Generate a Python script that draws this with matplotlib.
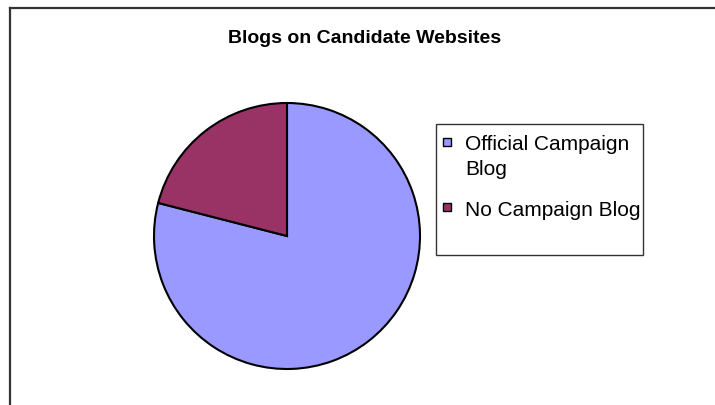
import matplotlib.pyplot as plt
from matplotlib.lines import Line2D
from matplotlib.patches import Rectangle

# blog share on candidate websites
labels = ["Official Campaign\nBlog", "No Campaign Blog"]
shares = [79, 21]
colors = ["#9999FF", "#993366"]

W, H = 715, 405
plt.rcParams['font.family'] = ['Liberation Sans', 'DejaVu Sans']

fig = plt.figure(figsize=(W / 100, H / 100), dpi=100)

# chart area border (only left and top edges are inside the image)
fig.add_artist(Line2D([10 / W, 10 / W], [0, 1 - 8 / H], color="#333333", lw=1.6))
fig.add_artist(Line2D([10 / W, 1], [1 - 8 / H, 1 - 8 / H], color="#333333", lw=1.6))

fig.text(365 / W, 1 - 43 / H, "Blogs on Candidate Websites", ha="center",
         va="baseline", fontsize=14, fontweight="bold")

# pie
cx, cy, r = 287, 236, 133
ax = fig.add_axes([(cx - r) / W, (H - cy - r) / H, 2 * r / W, 2 * r / H])
wedges, _ = ax.pie(shares, colors=colors, startangle=90, counterclock=False,
                   radius=1, wedgeprops=dict(edgecolor="black", linewidth=1.5,
                                             clip_on=False))
ax.set_xlim(-1, 1)
ax.set_ylim(-1, 1)
ax.set_aspect("equal")
ax.axis("off")

# legend box
fig.add_artist(Rectangle((436 / W, 1 - 255 / H), (643 - 436) / W, (255 - 124) / H,
                         transform=fig.transFigure, fill=False,
                         edgecolor="#333333", lw=1.0))
first_baselines = [151, 216]
line_step = 24
for w, lab, base in zip(wedges, labels, first_baselines):
    fig.add_artist(Rectangle((443 / W, 1 - (base - 5) / H), 8 / W, 8 / H,
                             transform=fig.transFigure, facecolor=w.get_facecolor(),
                             edgecolor="black", lw=1.0))
    # multi-line text is placed by its last baseline
    last = base + line_step * lab.count("\n")
    fig.text(465 / W, 1 - last / H, lab, ha="left", va="baseline",
             fontsize=15, linespacing=1.38)

fig.savefig("out.png", dpi=100)
